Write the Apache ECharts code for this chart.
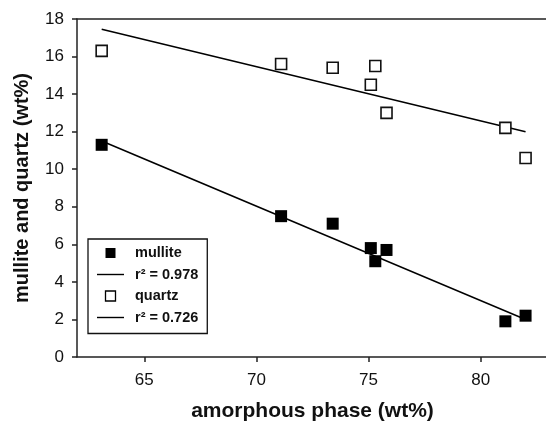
<!DOCTYPE html>
<html>
<head>
<meta charset="utf-8">
<script src="https://cdn.jsdelivr.net/npm/echarts@6/dist/echarts.min.js"></script>
<style>
  html, body { margin: 0; padding: 0; background: #fff; }
  #chart { width: 546px; height: 421px; }
</style>
</head>
<body>
<div id="chart"></div>
<script>
// Amorphous phase content (wt%) of each sample
const amorphous = [63.1, 71.1, 73.4, 75.1, 75.8, 75.3, 81.1, 82.0];
const amorphousQ = [63.1, 71.1, 73.4, 75.3, 75.1, 75.8, 81.1, 82.0];
// Crystalline phase contents (wt%)
const mullite = [11.3, 7.5, 7.1, 5.8, 5.7, 5.1, 1.9, 2.2];
const quartz = [16.3, 15.6, 15.4, 15.5, 14.5, 13.0, 12.2, 10.6];
// Linear fit end points [x, y]
const mulliteFit = [[63.1, 11.5], [82.0, 2.0]];
const quartzFit = [[63.1, 17.45], [82.0, 12.0]];
// Legend texts and axis ticks
const mulliteFitName = 'r\u00b2 = 0.978';
const quartzFitName = 'r\u00b2 = 0.726';
const xTicks = [65, 70, 75, 80];
const yTicks = [0, 2, 4, 6, 8, 10, 12, 14, 16, 18];

const FONT = "'Liberation Sans', Arial, Helvetica, sans-serif";
const AXIS = '#222';

const chart = echarts.init(document.getElementById('chart'), null, { renderer: 'canvas' });

chart.setOption({
  animation: false,
  backgroundColor: '#fff',
  textStyle: { fontFamily: FONT },
  grid: {
    left: 77, top: 19, width: 471, height: 338, show: false,
    containLabel: false, outerBoundsMode: 'none'
  },
  xAxis: [
    {
      type: 'value', min: 62, max: 83, position: 'bottom',
      name: 'amorphous phase (wt%)', nameLocation: 'middle', nameGap: 44,
      nameTextStyle: { fontFamily: FONT, fontWeight: 'bold', fontSize: 21, color: '#111' },
      axisLine: { show: true, lineStyle: { color: AXIS, width: 1.5 } },
      axisTick: { show: true, inside: false, length: 5, customValues: xTicks, lineStyle: { color: AXIS, width: 1.5 } },
      axisLabel: { show: true, customValues: xTicks, margin: 15, fontSize: 17, color: '#111', fontFamily: FONT },
      splitLine: { show: false }
    },
    {
      // plain frame line along the top of the plot
      type: 'value', min: 62, max: 83, position: 'top',
      axisLine: { show: true, lineStyle: { color: AXIS, width: 1.5 } },
      axisTick: { show: false }, axisLabel: { show: false }, splitLine: { show: false }
    }
  ],
  yAxis: {
    type: 'value', min: yTicks[0], max: yTicks[yTicks.length - 1], interval: 2,
    name: 'mullite and quartz (wt%)', nameLocation: 'middle', nameGap: 45,
    nameTextStyle: { fontFamily: FONT, fontWeight: 'bold', fontSize: 20, color: '#111' },
    axisLine: { show: true, lineStyle: { color: AXIS, width: 1.5 } },
    axisTick: { show: true, inside: false, length: 5, lineStyle: { color: AXIS, width: 1.5 } },
    axisLabel: { margin: 13, fontSize: 17, color: '#111', fontFamily: FONT },
    splitLine: { show: false }
  },
  legend: {
    orient: 'vertical', left: 88, top: 239,
    padding: [6, 9, 8, 9],
    itemWidth: 27, itemHeight: 10, itemGap: 5.5,
    borderColor: '#111', borderWidth: 1.3, backgroundColor: '#fff',
    symbolKeepAspect: true,
    textStyle: { fontFamily: FONT, fontWeight: 'bold', fontSize: 14.5, color: '#111', lineHeight: 16, padding: [0, 0, 0, 6] },
    data: [
      { name: 'mullite', icon: 'path://M0,0H10V10H0Z', itemStyle: { color: '#000', borderWidth: 0 } },
      { name: mulliteFitName, icon: 'path://M0,0H27V1.4H0Z', itemStyle: { color: '#000', borderWidth: 0 } },
      { name: 'quartz', icon: 'path://M0,0H10V10H0Z', itemStyle: { color: '#fff', borderColor: '#000', borderWidth: 1.3 } },
      { name: quartzFitName, icon: 'path://M0,0H27V1.4H0Z', itemStyle: { color: '#000', borderWidth: 0 } }
    ]
  },
  series: [
    {
      name: mulliteFitName, type: 'line', data: mulliteFit, symbol: 'none',
      color: '#000', lineStyle: { color: '#000', width: 1.5 }, z: 2, silent: true
    },
    {
      name: quartzFitName, type: 'line', data: quartzFit, symbol: 'none',
      color: '#000', lineStyle: { color: '#000', width: 1.5 }, z: 2, silent: true
    },
    {
      name: 'mullite', type: 'scatter', symbol: 'rect', symbolSize: 12,
      data: amorphous.map((x, i) => [x, mullite[i]]),
      itemStyle: { color: '#000', opacity: 1 }, z: 3
    },
    {
      name: 'quartz', type: 'scatter', symbol: 'rect', symbolSize: 11,
      data: amorphousQ.map((x, i) => [x, quartz[i]]),
      itemStyle: { color: '#fff', borderColor: '#111', borderWidth: 1.6, opacity: 1 }, z: 3
    }
  ]
});
</script>
</body>
</html>
